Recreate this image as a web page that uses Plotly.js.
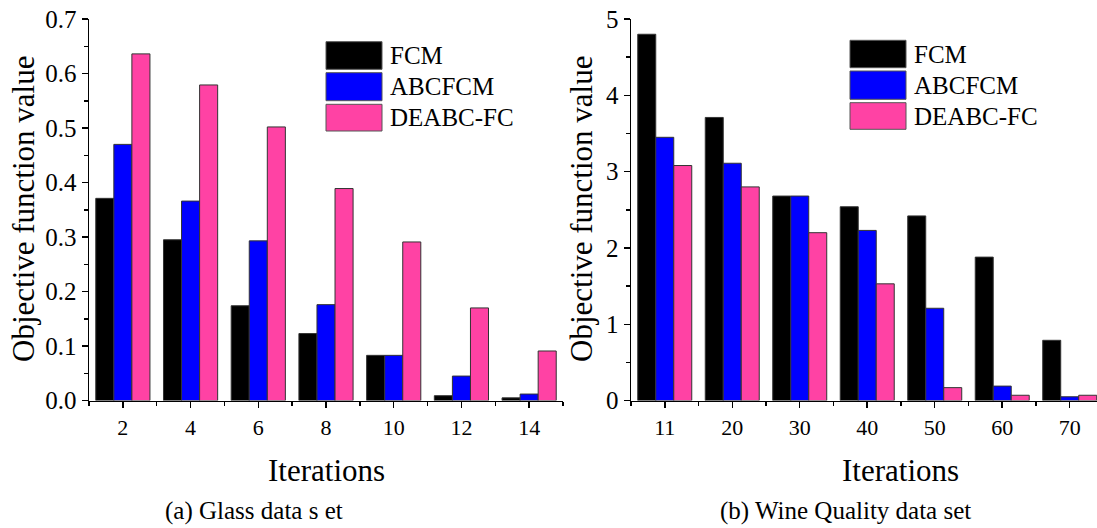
<!DOCTYPE html>
<html>
<head>
<meta charset="utf-8">
<script src="https://cdn.plot.ly/plotly-3.0.1.min.js"></script>
<style>
  html, body { margin: 0; padding: 0; background: #ffffff; overflow: hidden; }
  #chart { width: 1097px; height: 528px; }
</style>
</head>
<body>
<div id="chart"></div>
<script>
// Series shared by both panels
const seriesNames = ['FCM', 'ABCFCM', 'DEABC-FC'];
const seriesColors = ['#000000', '#0000FF', '#FF42A4'];

// (a) Glass data set
const glassIterations = ['2', '4', '6', '8', '10', '12', '14'];
const glassFCM    = [0.371, 0.295, 0.174, 0.123, 0.083, 0.009, 0.005];
const glassABCFCM = [0.470, 0.366, 0.293, 0.176, 0.083, 0.045, 0.012];
const glassDEABC  = [0.636, 0.579, 0.502, 0.389, 0.291, 0.170, 0.091];

// (b) Wine Quality data set
const wineIterations = ['11', '20', '30', '40', '50', '60', '70'];
const wineFCM    = [4.80, 3.71, 2.68, 2.54, 2.42, 1.88, 0.79];
const wineABCFCM = [3.45, 3.11, 2.68, 2.23, 1.21, 0.19, 0.05];
const wineDEABC  = [3.08, 2.80, 2.20, 1.53, 0.17, 0.07, 0.07];

const yTitle = 'Objective function value';
const xTitle = 'Iterations';
const captionA = '(a) Glass data s et';
const captionB = '(b) Wine Quality data set';

const W = 1097, H = 528;
const FONT = 'Liberation Serif, Times New Roman, serif';
const px = v => v / W;          // pixel -> paper x
const py = v => 1 - v / H;      // pixel -> paper y

const glassPos = glassIterations.map((_, i) => i);
const winePos = wineIterations.map((_, i) => i);

function barTrace(name, color, xs, ys, xa, ya) {
  return {
    type: 'bar', name: name, x: xs, y: ys, xaxis: xa, yaxis: ya,
    marker: { color: color, line: { color: '#333333', width: 1 } },
    showlegend: false, hoverinfo: 'x+y+name'
  };
}

const data = [
  barTrace(seriesNames[0], seriesColors[0], glassPos, glassFCM, 'x', 'y'),
  barTrace(seriesNames[1], seriesColors[1], glassPos, glassABCFCM, 'x', 'y'),
  barTrace(seriesNames[2], seriesColors[2], glassPos, glassDEABC, 'x', 'y'),
  barTrace(seriesNames[0], seriesColors[0], winePos, wineFCM, 'x2', 'y2'),
  barTrace(seriesNames[1], seriesColors[1], winePos, wineABCFCM, 'x2', 'y2'),
  barTrace(seriesNames[2], seriesColors[2], winePos, wineDEABC, 'x2', 'y2')
];

const xTickFont = { family: FONT, size: 22, color: '#000000' };
const yTickFont = { family: FONT, size: 25, color: '#000000' };

function xAxis(domain, range, pos, labels, anchor) {
  return {
    domain: domain, range: range, anchor: anchor,
    tickmode: 'array', tickvals: pos, ticktext: labels,
    ticks: 'outside', ticklen: 6, tickwidth: 1.5, tickcolor: '#000000',
    minor: { tickmode: 'linear', tick0: -0.5, dtick: 1, ticks: 'outside', ticklen: 3.5, tickwidth: 1.5, tickcolor: '#000000', showgrid: false },
    showline: true, linewidth: 1.5, linecolor: '#000000',
    showgrid: false, zeroline: false, tickfont: xTickFont, fixedrange: true
  };
}
function yAxis(domain, range, dtick, fmt, anchor) {
  return {
    domain: domain, range: range, anchor: anchor,
    tickmode: 'linear', tick0: 0, dtick: dtick, tickformat: fmt,
    ticks: 'outside', ticklen: 6, tickwidth: 1.5, tickcolor: '#000000',
    minor: { dtick: dtick / 2, ticks: 'outside', ticklen: 3.5, tickwidth: 1.5, tickcolor: '#000000', showgrid: false },
    showline: true, linewidth: 1.5, linecolor: '#000000',
    showgrid: false, zeroline: false, tickfont: yTickFont, fixedrange: true
  };
}

const yDomain = [py(400.6), py(19)];

// Legend boxes drawn as shapes with text labels beside them
function legend(x0, rows, textX) {
  const shapes = [], notes = [];
  rows.forEach((r, i) => {
    shapes.push({
      type: 'rect', xref: 'paper', yref: 'paper',
      x0: px(x0), x1: px(x0 + 56), y0: py(r[1]), y1: py(r[0]),
      fillcolor: seriesColors[i], line: { color: '#555555', width: 1 }
    });
    notes.push({
      xref: 'paper', yref: 'paper', x: px(textX), y: py((r[0] + r[1]) / 2),
      xanchor: 'left', yanchor: 'middle', showarrow: false,
      text: seriesNames[i], font: { family: FONT, size: 25, color: '#000000' }
    });
  });
  return { shapes, notes };
}
const legA = legend(326, [[41.7, 69.3], [72.7, 100.7], [104.3, 131]], 388);
const legB = legend(850, [[40.3, 67.7], [71, 99.3], [102.7, 129.3]], 912);

const titleFont = { family: FONT, size: 31, color: '#000000' };
const captionFont = { family: FONT, size: 25, color: '#000000' };

const annotations = [
  { xref: 'paper', yref: 'paper', x: px(24), y: py(209), textangle: -90, text: yTitle, font: titleFont, showarrow: false, xanchor: 'center', yanchor: 'middle' },
  { xref: 'paper', yref: 'paper', x: px(582), y: py(209), textangle: -90, text: yTitle, font: titleFont, showarrow: false, xanchor: 'center', yanchor: 'middle' },
  { xref: 'paper', yref: 'paper', x: px(326), y: py(470), text: xTitle, font: titleFont, showarrow: false, xanchor: 'center', yanchor: 'middle' },
  { xref: 'paper', yref: 'paper', x: px(900), y: py(470), text: xTitle, font: titleFont, showarrow: false, xanchor: 'center', yanchor: 'middle' },
  { xref: 'paper', yref: 'paper', x: px(254), y: py(511), text: captionA, font: captionFont, showarrow: false, xanchor: 'center', yanchor: 'middle' },
  { xref: 'paper', yref: 'paper', x: px(845), y: py(511), text: captionB, font: captionFont, showarrow: false, xanchor: 'center', yanchor: 'middle' }
].concat(legA.notes, legB.notes);

const layout = {
  width: W, height: H,
  margin: { l: 0, r: 0, t: 0, b: 0, pad: 0 },
  paper_bgcolor: '#ffffff', plot_bgcolor: '#ffffff',
  barmode: 'group', bargap: 0.2, bargroupgap: 0,
  showlegend: false,
  font: { family: FONT, color: '#000000' },
  xaxis: xAxis([px(89), px(563)], [-0.5, 6.5], glassPos, glassIterations, 'y'),
  yaxis: yAxis(yDomain, [0, 0.7], 0.1, '.1f', 'x'),
  xaxis2: xAxis([px(631), 1], [-0.5, 6.404], winePos, wineIterations, 'y2'),
  yaxis2: yAxis(yDomain, [0, 5], 1, 'd', 'x2'),
  shapes: legA.shapes.concat(legB.shapes),
  annotations: annotations
};

Plotly.newPlot('chart', data, layout, { displayModeBar: false, staticPlot: true });
</script>
</body>
</html>
